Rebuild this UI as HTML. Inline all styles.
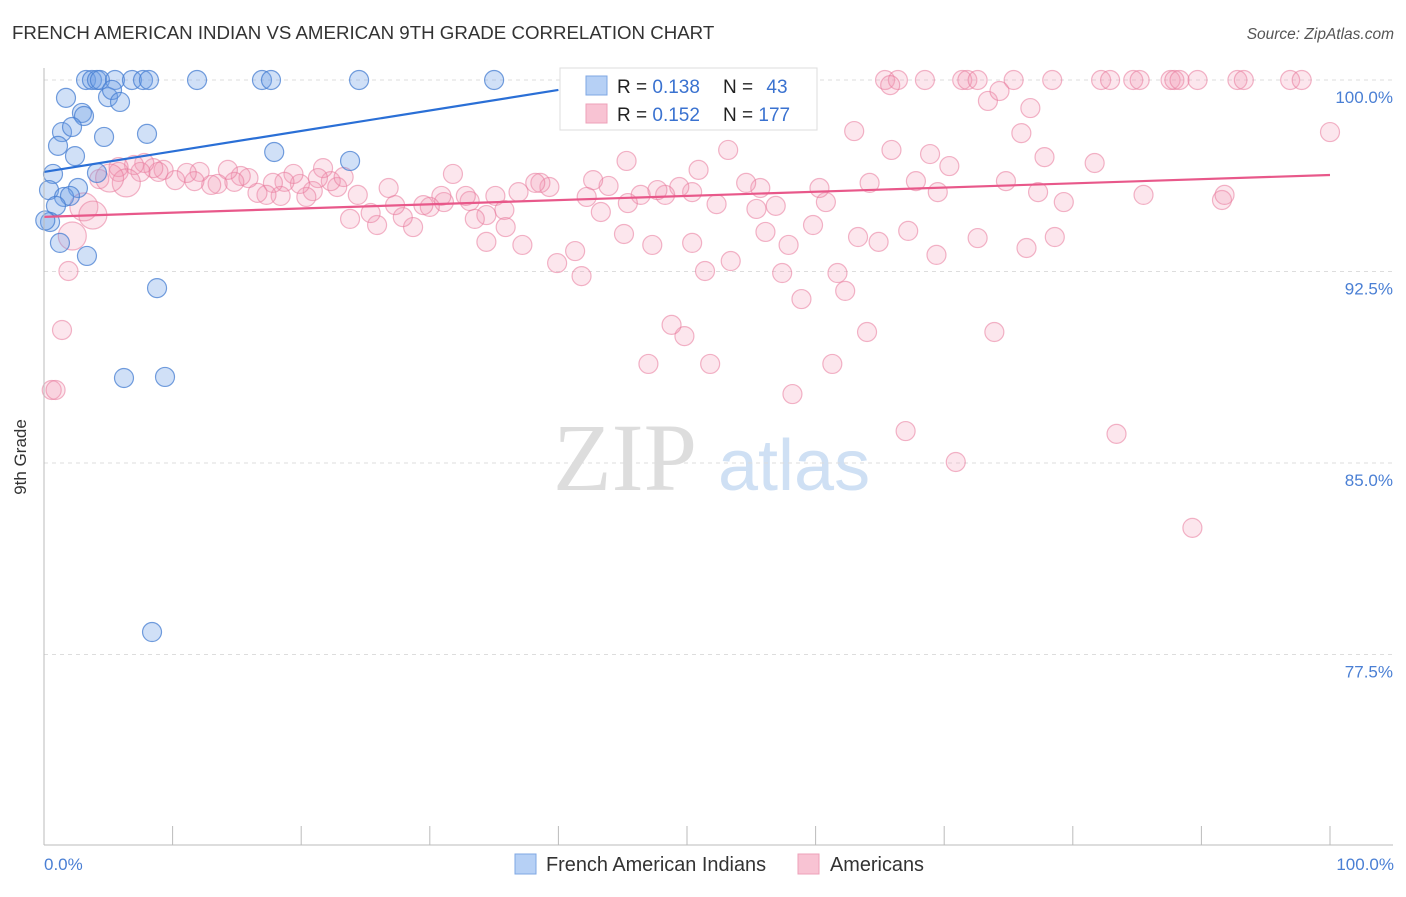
<!DOCTYPE html>
<html><head><meta charset="utf-8"><style>
body{margin:0;background:#fff;font-family:"Liberation Sans",sans-serif}
</style></head><body>
<svg id="chart" width="1406" height="892" xmlns="http://www.w3.org/2000/svg">
<text x="12" y="39" font-size="18.7" fill="#333">FRENCH AMERICAN INDIAN VS AMERICAN 9TH GRADE CORRELATION CHART</text>
<text x="1394" y="39" font-size="15.5" fill="#555" font-style="italic" text-anchor="end">Source: ZipAtlas.com</text>
<g><text x="553" y="490" font-family="Liberation Serif,serif" font-size="96" fill="#ddd">ZIP</text><text x="718" y="490" font-size="72" fill="#cfe0f4">atlas</text></g>
<g id="grid"></g><g id="pts"></g><g id="lines"></g>
<line x1="44" y1="68" x2="44" y2="845" stroke="#bbb"/>
<line x1="44" y1="845" x2="1393" y2="845" stroke="#bbb"/>
<text x="26" y="457" font-size="17" fill="#333" text-anchor="middle" transform="rotate(-90 26 457)">9th Grade</text>
<text x="44" y="870" font-size="17" fill="#4a7fd4">0.0%</text>
<text x="1394" y="870" font-size="17" fill="#4a7fd4" text-anchor="end">100.0%</text>
<g>
<rect x="560" y="68" width="257" height="62" fill="#fff" stroke="#ddd"/>
<rect x="586" y="76" width="21" height="19" fill="#b6d0f5" stroke="#7fa7e3"/>
<rect x="586" y="104" width="21" height="19" fill="#f8c3d3" stroke="#eea0b8"/>
<text x="617" y="93" font-size="19" fill="#222">R = <tspan fill="#3a72d0">0.138</tspan></text>
<text x="723" y="93" font-size="19" fill="#222">N = <tspan fill="#3a72d0" dx="8">43</tspan></text>
<text x="617" y="121" font-size="19" fill="#222">R = <tspan fill="#3a72d0">0.152</tspan></text>
<text x="723" y="121" font-size="19" fill="#222">N = <tspan fill="#3a72d0">177</tspan></text>
</g>
<g>
<rect x="515" y="854" width="21" height="20" fill="#b6d0f5" stroke="#7fa7e3"/>
<text x="546" y="871" font-size="19.9" fill="#333">French American Indians</text>
<rect x="798" y="854" width="21" height="20" fill="#f8c3d3" stroke="#eea0b8"/>
<text x="830" y="871" font-size="19.9" fill="#333">Americans</text>
</g>
</svg>
<script>
const yTicks=[100,92.5,85,77.5];
const yTickLabels=["100.0%","92.5%","85.0%","77.5%"];
const xTicks=[0,10,20,30,40,50,60,70,80,90,100];
const blueX=[3.27,3.73,4.12,4.35,5.52,6.84,7.70,8.16,11.9,16.95,17.65,24.5,35.0,1.71,4.98,5.29,5.91,2.95,3.11,1.40,2.18,1.09,4.67,8.01,2.41,17.9,23.8,0.70,4.12,2.64,0.39,1.56,2.02,0.93,0.47,1.24,3.34,8.79,6.22,9.41,8.40,0.1];
const blueY=[100,100,100,100,100,100,100,100,100,100,100,100,100,99.30,99.33,99.61,99.14,98.71,98.59,97.96,98.16,97.42,97.77,97.89,97.02,97.18,96.83,96.32,96.36,95.77,95.69,95.42,95.46,95.07,94.44,93.62,93.11,91.85,88.33,88.37,78.38,94.5];
const pinkX=[59.3,65.4,66.4,68.5,71.4,71.8,72.6,75.4,78.4,82.2,82.9,84.7,85.2,87.6,87.9,88.3,89.7,92.8,93.3,96.9,97.8,65.8,73.4,74.3,76.7,76.0,77.8,81.7,100,63.0,53.8,89.3,83.4,70.9,67.0,58.2,61.3,64.0,73.9,51.8,47.0,49.8,48.8,58.9,62.3,61.7,57.4,51.4,53.4,41.8,39.9,41.3,37.2,34.4,45.1,47.3,50.4,56.1,57.9,59.8,63.3,64.9,67.2,69.4,72.6,76.4,78.6,91.6,91.8,85.5,79.3,77.3,74.8,69.5,67.8,64.2,60.8,60.3,56.9,55.7,54.6,55.4,52.3,50.4,49.4,48.3,46.4,47.7,45.4,43.9,43.3,42.7,42.2,39.3,38.6,38.2,36.9,35.1,35.8,35.9,34.4,33.5,33.1,32.8,31.8,31.1,30.9,30.0,29.5,28.7,27.9,27.3,26.8,25.9,25.4,24.4,23.8,22.8,22.3,23.3,21.7,21.3,20.9,20.4,19.9,19.4,18.7,18.4,17.8,17.3,16.6,15.9,15.3,14.8,14.3,13.5,13.0,12.1,11.7,11.1,10.2,9.3,8.9,8.5,7.8,7.5,7.0,5.8,4.3,5.8,1.9,1.4,0.6,0.9,70.4,68.9,65.9,53.2,50.9,45.3];
const pinkY=[100,100,100,100,100,100,100,100,100,100,100,100,100,100,100,100,100,100,100,100,100,99.8,99.18,99.57,98.9,97.92,96.98,96.75,97.96,98.0,98.51,82.46,86.14,85.04,86.25,87.70,88.88,90.13,90.13,88.88,88.88,89.97,90.41,91.42,91.74,92.44,92.44,92.52,92.91,92.32,92.83,93.30,93.54,93.66,93.97,93.54,93.62,94.05,93.54,94.32,93.85,93.66,94.09,93.15,93.81,93.42,93.85,95.30,95.50,95.50,95.22,95.61,96.04,95.61,96.04,95.97,95.22,95.77,95.07,95.77,95.97,94.95,95.14,95.61,95.81,95.50,95.50,95.69,95.18,95.85,94.83,96.08,95.42,95.81,95.97,95.97,95.61,95.46,94.91,94.24,94.71,94.56,95.26,95.46,96.32,95.22,95.46,95.03,95.10,94.24,94.63,95.10,95.77,94.32,94.79,95.50,94.56,95.81,96.04,96.20,96.55,96.16,95.65,95.42,95.93,96.32,96.01,95.46,95.97,95.50,95.58,96.16,96.24,96.01,96.48,95.93,95.89,96.40,96.04,96.36,96.08,96.48,96.40,96.55,96.75,96.40,96.67,96.40,96.12,96.59,92.52,90.21,87.86,87.86,96.63,97.10,97.26,97.26,96.48,96.83];
const pinkBigX=[6.4,5.1,3.1,3.8,2.2];
const pinkBigY=[95.97,96.16,95.03,94.71,93.89];
const blueTrend=[96.40,99.61]; // at x=0 and x=40
const pinkTrend=[94.64,96.28]; // at x=0 and x=100

const X=v=>44+v*12.86;
const Y=v=>80+(100-v)*25.533;
const NS="http://www.w3.org/2000/svg";
function mk(tag,attrs,parent){const e=document.createElementNS(NS,tag);for(const k in attrs)e.setAttribute(k,attrs[k]);parent.appendChild(e);return e;}
const grid=document.getElementById('grid'),pts=document.getElementById('pts'),lines=document.getElementById('lines'),svg=document.getElementById('chart');
yTicks.forEach((t,i)=>{
  const l=mk('line',{x1:44,x2:1393,y1:Y(t),y2:Y(t),stroke:'#ddd','stroke-dasharray':'4,4'},grid);
  
  
  const tx=mk('text',{x:1393,y:Y(t)+23,'font-size':17,fill:'#4a7fd4','text-anchor':'end'},svg);
  tx.textContent=yTickLabels[i];
  
  
});
xTicks.forEach(t=>{
  const l=mk('line',{x1:X(t),x2:X(t),y1:826,y2:845,stroke:'#bbb'},grid);
  
  
});
function dots(xs,ys,r,fill,stroke,name){
  xs.forEach((x,i)=>{
    const c=mk('circle',{cx:X(x),cy:Y(ys[i]),r:r,fill:fill,stroke:stroke,'stroke-width':1.2},pts);
    
    
  });
}
dots(pinkX,pinkY,9.5,'rgba(244,150,178,0.24)','rgba(232,120,155,0.55)','american-point');
dots(pinkBigX,pinkBigY,14,'rgba(244,150,178,0.24)','rgba(232,120,155,0.55)','american-point');
dots(blueX,blueY,9.5,'rgba(110,160,230,0.32)','rgba(70,125,210,0.75)','french-american-indian-point');
const bl=mk('line',{x1:X(0),y1:Y(blueTrend[0]),x2:X(40),y2:Y(blueTrend[1]),stroke:'#2a6fd6','stroke-width':2.2},lines);


const pl=mk('line',{x1:X(0),y1:Y(pinkTrend[0]),x2:X(100),y2:Y(pinkTrend[1]),stroke:'#e8588a','stroke-width':2.2},lines);


</script>
</body></html>
